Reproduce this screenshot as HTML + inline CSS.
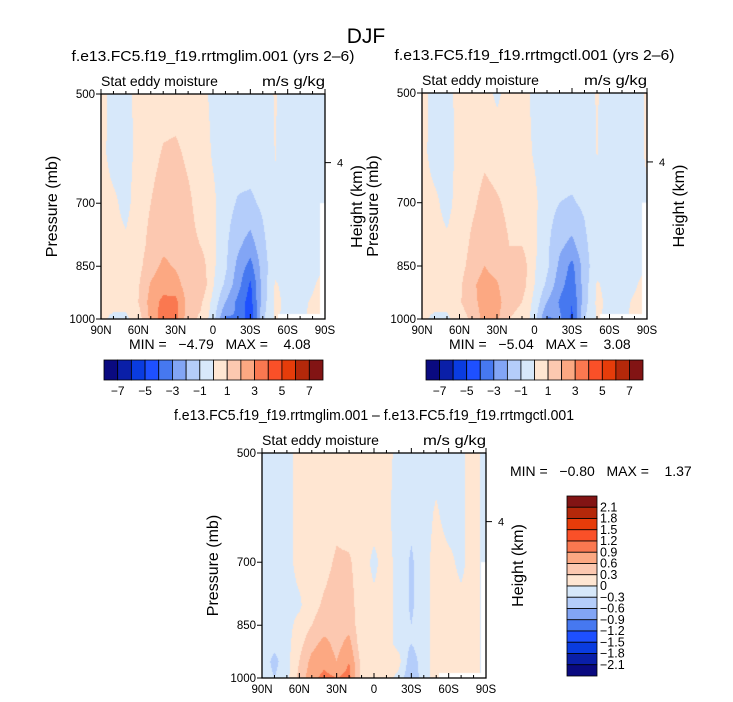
<!DOCTYPE html>
<html><head><meta charset="utf-8">
<style>
body{margin:0;background:#fff;width:733px;height:702px;overflow:hidden;position:relative;font-family:"Liberation Sans",sans-serif}
canvas{position:absolute}
svg{position:absolute;left:0;top:0}
</style></head>
<body>
<canvas id="c1" width="224" height="225" style="left:101px;top:94px"></canvas>
<canvas id="c2" width="225" height="226" style="left:422px;top:93px"></canvas>
<canvas id="c3" width="224" height="225" style="left:262px;top:453px"></canvas>
<svg id="s" width="733" height="702"></svg>
<script>
const lats=[90,80,70,60,50,40,30,20,10,0,-10,-20,-30,-40,-50,-60,-70,-80,-90];
const levels=[500,600,700,800,850,900,950,1000];
const glim=[
[.3,-.3,-.3,.3,.4,.5,.5,.4,.3,-.2,-.3,-.4,-.4,-.3,.05,-.3,-.3,-.3,-.1],
[.3,-.4,-.4,.3,.6,1.1,1.2,.8,.5,-.1,-.4,-.5,-.5,-.4,.02,-.4,-.4,-.3,-.1],
[.4,.2,-.3,.5,1.0,1.6,1.6,1.2,.6,.2,-.6,-1.1,-1.2,-.8,-.05,-.4,-.4,-.3,-.1],
[.4,.3,.2,.6,1.3,1.8,1.7,1.3,1.0,.3,-.8,-1.8,-2.5,-1.3,-.2,-.3,-.3,-.3,-.1],
[.3,.3,.3,.7,1.6,2.2,1.9,1.3,1.6,.2,-.8,-2.3,-3.4,-1.5,-.3,-.3,-.3,-.2,-.1],
[.3,.3,.3,.9,2.1,2.6,2.4,1.5,1.9,.1,-1.2,-2.6,-4.2,-1.6,.1,-.3,-.3,-.1,.3],
[.2,.3,.3,1.0,2.4,3.3,3.3,1.6,1.2,-.3,-2.0,-3.3,-4.5,-1.5,.2,-.2,-.2,.1,.5],
[.2,-.2,-.2,.5,2.3,3.6,3.4,1.4,.8,-.5,-3.2,-3.0,-4.8,-1.2,.1,-.2,-.2,.2,.5]];
const ctl=[
[.3,-.3,-.3,.3,.4,.4,-.2,.4,.3,-.2,-.3,-.4,-.4,-.3,.05,-.3,-.3,-.3,.1],
[.3,-.4,-.4,.3,.5,.8,.6,.5,.4,-.1,-.4,-.5,-.5,-.4,.02,-.4,-.4,-.3,.1],
[.4,.2,-.3,.4,.8,1.3,1.1,.8,.5,.2,-.6,-1.0,-1.1,-.8,-.05,-.4,-.4,-.3,-.1],
[.4,.3,.2,.5,1.2,1.6,1.4,1.0,1.0,.2,-.8,-1.8,-2.3,-1.3,-.2,-.3,-.3,-.3,-.1],
[.3,.3,.3,.6,1.4,2.0,1.6,1.1,1.6,.1,-.8,-2.2,-3.3,-1.5,-.3,-.3,-.3,-.2,-.1],
[.3,.3,.3,.8,1.8,2.4,2.1,1.2,1.5,.0,-1.2,-2.6,-3.6,-1.5,.1,-.3,-.3,-.1,.3],
[.2,.3,.3,.9,1.6,2.5,2.4,1.3,1.0,-.3,-2.0,-3.1,-4.0,-1.4,.2,-.2,-.2,.1,.4],
[.2,-.2,-.2,.5,1.2,2.4,2.2,1.0,.7,-.5,-3.2,-2.8,-4.2,-1.1,.1,-.2,-.2,.2,.4]];
const diff=[
[-.1,-.1,-.1,.1,.1,.1,.15,.1,.1,.1,.1,-.1,-.1,-.1,-.1,-.1,-.05,.1,-.1],
[-.1,-.1,-.1,.1,.1,.1,.2,.1,.1,.1,.05,-.1,-.2,-.1,.03,-.1,-.05,.1,-.1],
[-.1,-.1,-.1,.1,.1,.2,.35,.35,.1,-.05,.1,-.1,-.35,-.1,.1,.05,-.05,.1,-.1],
[-.1,-.1,-.1,-.05,.2,.35,.45,.45,.1,.05,.1,-.1,-.35,-.1,.1,.1,.05,.1,-.1],
[-.1,-.1,-.1,.1,.3,.45,.45,.5,.1,.05,.1,-.1,-.3,-.1,.1,.1,.1,.1,-.1],
[-.1,-.2,-.1,.2,.5,.7,.5,.7,.1,.1,.1,-.1,-.3,-.1,.1,.1,.1,.1,-.1],
[-.1,-.4,-.1,.3,.7,.8,.6,.9,.2,.1,.3,.1,-.5,-.1,.1,.1,.1,.1,-.1],
[-.1,-.3,-.1,.4,.8,1.0,.9,1.0,.2,.1,.1,-.1,-.6,-.1,.1,.1,.1,.1,-.1]];
const colors=["#0a0a80","#0a1fa8","#0a3ce0","#1e50ff","#4678f0","#82a5f5","#b4cdfa","#d7e8fa","#ffe6d2","#fcc8b0","#fca882","#fa7850","#fa5028","#e63c0a","#b4280a","#821414"];
const bounds1=[-7,-6,-5,-4,-3,-2,-1,0,1,2,3,4,5,6,7];
const bounds3=[-2.1,-1.8,-1.5,-1.2,-.9,-.6,-.3,0,.3,.6,.9,1.2,1.5,1.8,2.1];
const cbLabels1=["-7","-5","-3","-1","1","3","5","7"];
const cbLabels3=["2.1","1.8","1.5","1.2","0.9","0.6","0.3","0","-0.3","-0.6","-0.9","-1.2","-1.5","-1.8","-2.1"];
const latTicks=["90N","60N","30N","0","30S","60S","90S"];
const presTicks=[500,700,850,1000];

function colIdx(v,b){let i=0;while(i<b.length&&v>=b[i])i++;return i;}
function field(id,grid,bounds){
  const c=document.getElementById(id),ctx=c.getContext('2d'),W=c.width,H=c.height;
  const lp=levels.map(Math.log),top=Math.log(500),bot=Math.log(1000);
  for(let py=0;py<H;py++){
    const L=top+(py+.5)/H*(bot-top);
    let k=0;while(k<lp.length-2&&L>lp[k+1])k++;
    const ty=Math.min(1,Math.max(0,(L-lp[k])/(lp[k+1]-lp[k])));
    for(let px=0;px<W;px++){
      const lat=90-(px+.5)/W*180;
      let j=0;while(j<lats.length-2&&lat<lats[j+1])j++;
      const tx=(lats[j]-lat)/(lats[j]-lats[j+1]);
      const v=(grid[k][j]*(1-tx)+grid[k][j+1]*tx)*(1-ty)+(grid[k+1][j]*(1-tx)+grid[k+1][j+1]*tx)*ty;
      ctx.fillStyle=colors[colIdx(v,bounds)];ctx.fillRect(px,py,1,1);
    }
  }
  ctx.fillStyle="#fff";
  ctx.fillRect(W*0.79,H-5,W*0.19,5);
  ctx.fillRect(W-5,H*0.485,5,H);
}
field('c1',glim,bounds1);field('c2',ctl,bounds1);field('c3',diff,bounds3);

const S=document.getElementById('s');const NS="http://www.w3.org/2000/svg";
function el(t,a,txt){const e=document.createElementNS(NS,t);for(const k in a)e.setAttribute(k,a[k]);if(txt!==undefined)e.textContent=txt;S.appendChild(e);return e;}
function txt(x,y,s,size,anchor,name,rot,len){const a={x:x,y:y,'font-size':size,'text-anchor':anchor||'start',fill:'#000','font-family':'Liberation Sans, sans-serif'};if(rot)a.transform=`rotate(-90 ${x} ${y})`;if(len){a.textLength=len;a.lengthAdjust='spacingAndGlyphs';}const e=el('text',a,s);

return e;}

function axes(x0,y0,w,h,pre,title,tlen,mn,mx,mmx,mmy){
  const r=el('rect',{x:x0,y:y0,width:w,height:h,fill:'none',stroke:'#000','stroke-width':1.3});
  
  
  txt(x0+w/2,y0-33,title,15,'middle',pre+'-title',false,tlen);
  txt(x0,y0-8,'Stat eddy moisture',14,'start',pre+'-field-label',false,117);
  txt(x0+w,y0-8,'m/s g/kg',14,'end',pre+'-units-label',false,63);
  const yP=p=>y0+(Math.log(p)-Math.log(500))/(Math.log(1000)-Math.log(500))*h;
  const xL=l=>x0+(90-l)/180*w;
  for(let l=90;l>=-90;l-=10){
    const x=xL(l),maj=(l%30===0);const L=maj?5:3;
    const t1=el('line',{x1:x,x2:x,y1:y0+h,y2:y0+h-L,stroke:'#000'});
    
    
    const t2=el('line',{x1:x,x2:x,y1:y0,y2:y0-L,stroke:'#000'});
    
    
  }
  latTicks.forEach((s,i)=>txt(xL(90-i*30),y0+h+15,s,11.5,'middle',pre+'-x-tick-label'));
  presTicks.forEach(p=>{const y=yP(p);
    const t=el('line',{x1:x0-5,x2:x0,y1:y,y2:y,stroke:'#000'});
    
    
    txt(x0-6,y+4,String(p),11.5,'end',pre+'-y-tick-label');});
  const hy=y0+0.305*h;
  const ht=el('line',{x1:x0+w,x2:x0+w+6,y1:hy,y2:hy,stroke:'#000'});
  
  
  txt(x0+w+12,hy+4,'4',11,'start',pre+'-height-tick-label');
  txt(x0-44,y0+h/2,'Pressure (mb)',16,'middle',pre+'-y-axis-title',true);
  txt(x0+w+37,y0+h/2,'Height (km)',16,'middle',pre+'-y2-axis-title',true);
  txt(mmx,mmy,'MIN =   '+mn+'   MAX =    '+mx,14,'start',pre+'-min-max');
}
axes(101,94,224,225,'glim','f.e13.FC5.f19_f19.rrtmglim.001 (yrs 2\u20136)',283,'\u22124.79','4.08',129,349);
axes(422,93,225,226,'ctl','f.e13.FC5.f19_f19.rrtmgctl.001 (yrs 2\u20136)',280,'\u22125.04','3.08',449,349);
axes(262,453,224,225,'diff','f.e13.FC5.f19_f19.rrtmglim.001 \u2013 f.e13.FC5.f19_f19.rrtmgctl.001',400,'\u22120.80','1.37',510,476);
document.querySelectorAll('text').forEach(t=>t.style.whiteSpace='pre');
txt(366,43,'DJF',21,'middle','main-title');

function hbar(x0,y0,w,h,pre){
  const bw=w/colors.length;
  colors.forEach((c,i)=>{const r=el('rect',{x:x0+i*bw,y:y0,width:bw,height:h,fill:c,stroke:'#000','stroke-width':.8});
    
    });
  cbLabels1.forEach((s,i)=>txt(x0+bw*(1+2*i),y0+h+15,s.replace('-','\u2212'),12,'middle',pre+'-colorbar-label'));
}
hbar(104,360,219,20,'glim');hbar(426,360,217,20,'ctl');
(function(){const x0=567,y0=496,w=30,h=180,bh=h/16;
  colors.slice().reverse().forEach((c,i)=>{const r=el('rect',{x:x0,y:y0+i*bh,width:w,height:bh,fill:c,stroke:'#000','stroke-width':.8});
    
    });
  cbLabels3.forEach((s,i)=>txt(x0+w+3,y0+(i+1)*bh+4,s.replace('-','\u2212'),12.5,'start','diff-colorbar-label'));
})();
</script>
</body></html>
